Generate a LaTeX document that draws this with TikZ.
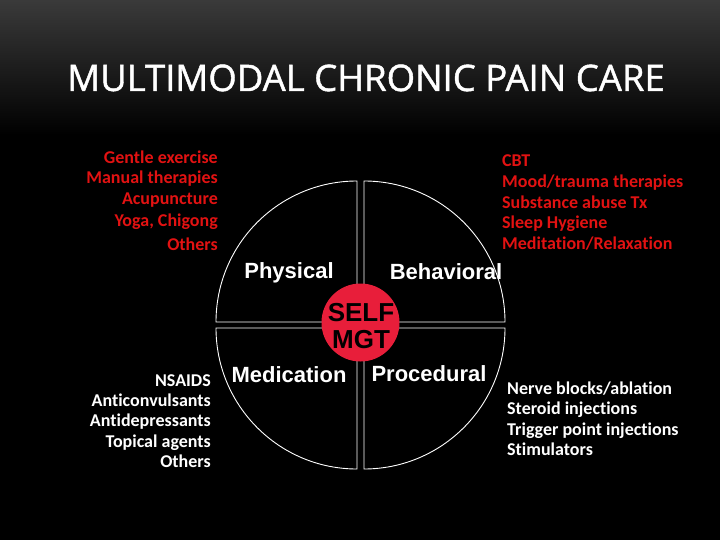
\documentclass[tikz,border=0pt]{standalone}
\usepackage{fontspec}
\setmainfont[Ligatures={NoCommon}]{Carlito}
\newfontfamily\titlefont[FakeBold=1.2]{Open Sans}
\newfontfamily\arialfont{Liberation Sans}
\definecolor{listred}{RGB}{226,18,18}
\definecolor{selfred}{RGB}{232,30,58}
\definecolor{topgray}{RGB}{58,58,58}
\tikzset{
  quad/.style={draw=white, line width=0.9pt},
  redlist/.style={text=listred, font=\fontsize{18}{20}\selectfont\bfseries, inner sep=0pt},
  whitelist/.style={text=white, font=\fontsize{18}{20}\selectfont\bfseries, inner sep=0pt},
  quadlabel/.style={text=white, font=\arialfont\fontsize{22}{26}\selectfont\bfseries, inner sep=0pt},
  selflabel/.style={text=black, font=\arialfont\fontsize{26}{26}\selectfont\bfseries, inner sep=0pt},
}
\begin{document}
\begin{tikzpicture}[x=1pt,y=-1pt]
\useasboundingbox (0,0) rectangle (720,540);
\fill[black] (0,0) rectangle (720,540);
\shade[top color=topgray, bottom color=black] (0,0) rectangle (720,135);
% title
\node[text=white, font=\titlefont\fontsize{36.5}{40}\selectfont, inner sep=0pt, anchor=base] (title) at (366,91) {MULTIMODAL CHRONIC PAIN CARE};
% quadrants
\draw[quad] (357,322) -- (216,322) arc[start angle=180, end angle=270, radius=141] -- cycle;
\draw[quad] (364,322) -- (364,181) arc[start angle=270, end angle=360, radius=141] -- cycle;
\draw[quad] (357,328) -- (216,328) arc[start angle=180, end angle=90, radius=141] -- cycle;
\draw[quad] (364,328) -- (505,328) arc[start angle=0, end angle=90, radius=141] -- cycle;
% center circle
\fill[selfred] (360.5,322.5) circle[radius=39];
\node[selflabel, anchor=base] (self) at (361,321) {SELF};
\node[selflabel, anchor=base] (mgt) at (361,348) {MGT};
% quadrant labels
\node[quadlabel, anchor=base] (physical) at (289,278) {Physical};
\node[quadlabel, anchor=base] (behavioral) at (446,279) {Behavioral};
\node[quadlabel, anchor=base] (medication) at (289,382) {Medication};
\node[quadlabel, anchor=base] (procedural) at (429,381) {Procedural};
% lists
\foreach \y/\t [count=\i] in {164/{Gentle exercise}, 184/{Manual therapies}, 205/{Acupuncture}, 226/{Yoga, Chigong}, 251/{Others}}
  \node[redlist, anchor=base east] (pl\i) at (218,\y) {\t};
\foreach \y/\t [count=\i] in {167/{CBT}, 188/{Mood/trauma therapies}, 208/{Substance abuse Tx}, 229/{Sleep Hygiene}, 249/{Meditation/Relaxation}}
  \node[redlist, anchor=base west] (bl\i) at (502,\y) {\t};
\foreach \y/\t [count=\i] in {386/{NSAIDS}, 406/{Anticonvulsants}, 426/{Antidepressants}, 447/{Topical agents}, 467/{Others}}
  \node[whitelist, anchor=base east] (ml\i) at (211,\y) {\t};
\foreach \y/\t [count=\i] in {394/{Nerve blocks/ablation}, 414/{Steroid injections}, 435/{Trigger point injections}, 455/{Stimulators}}
  \node[whitelist, anchor=base west] (rl\i) at (507,\y) {\t};
\end{tikzpicture}
\end{document}
